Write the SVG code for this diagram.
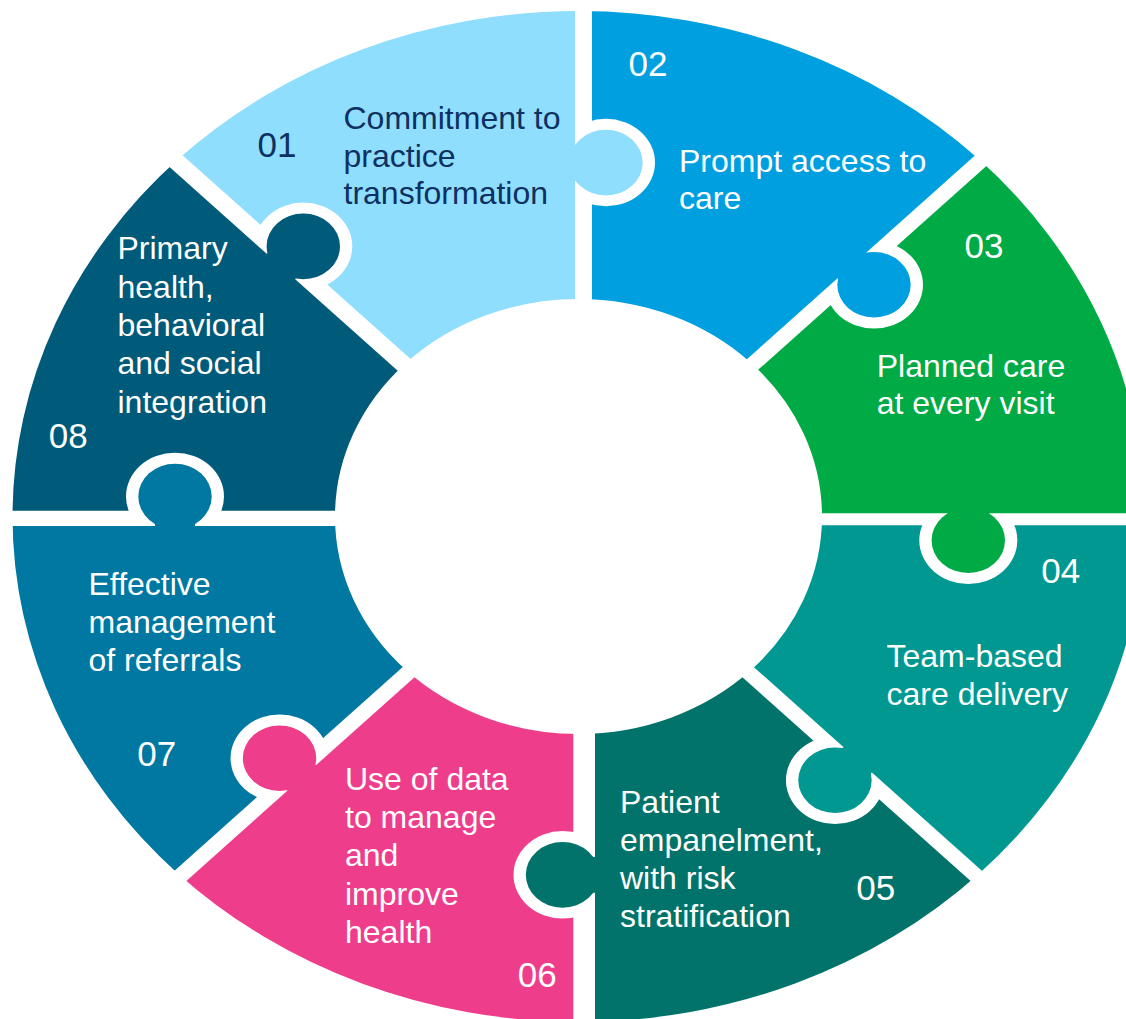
<svg xmlns="http://www.w3.org/2000/svg" xmlns:xlink="http://www.w3.org/1999/xlink" width="1126" height="1019" viewBox="0 0 1126 1019">
  <style>
    .lbl { font-family: "Liberation Sans", Arial, sans-serif; font-size: 32px; fill: #ffffff; }
    .num { font-family: "Liberation Sans", Arial, sans-serif; font-size: 35px; fill: #ffffff; }
    .dark { fill: #0E3062; }
    .gap { stroke: #000; fill: none; }
    .sock { fill: #000; }
  </style>
  <defs>
    <!-- white cut lines between the ring pieces (ring space: centre 0,0, circle radius 566) -->
    <g id="gaps">
      <line class="gap" x1="0" y1="5" x2="700" y2="5" stroke-width="17" transform="rotate(-90)"/>
      <line class="gap" x1="0" y1="2.7" x2="700" y2="2.7" stroke-width="16.4" transform="rotate(-45)"/>
      <line class="gap" x1="0" y1="3" x2="700" y2="3" stroke-width="13.5"/>
      <line class="gap" x1="0" y1="3.3" x2="700" y2="3.3" stroke-width="16.1" transform="rotate(45)"/>
      <line class="gap" x1="0" y1="-5.65" x2="700" y2="-5.65" stroke-width="21.7" transform="rotate(90)"/>
      <line class="gap" x1="0" y1="-3.1" x2="700" y2="-3.1" stroke-width="16.4" transform="rotate(135)"/>
      <line class="gap" x1="0" y1="-2.1" x2="700" y2="-2.1" stroke-width="17.2" transform="rotate(180)"/>
      <line class="gap" x1="0" y1="-3.2" x2="700" y2="-3.2" stroke-width="18.5" transform="rotate(225)"/>
    </g>
    <rect id="all" x="-700" y="-700" width="1400" height="1400" fill="#fff"/>
    <mask id="m01" maskUnits="userSpaceOnUse" x="-700" y="-700" width="1400" height="1400">
      <use xlink:href="#all"/><use xlink:href="#gaps"/>
      <circle class="sock" cx="408.5" cy="19.3" r="49" transform="rotate(225)"/>
    </mask>
    <mask id="m02" maskUnits="userSpaceOnUse" x="-700" y="-700" width="1400" height="1400">
      <use xlink:href="#all"/><use xlink:href="#gaps"/>
      <circle class="sock" cx="396.3" cy="27.5" r="49" transform="rotate(-90)"/>
    </mask>
    <mask id="m03" maskUnits="userSpaceOnUse" x="-700" y="-700" width="1400" height="1400">
      <use xlink:href="#all"/><use xlink:href="#gaps"/>
      <circle class="sock" cx="392.4" cy="25.5" r="49" transform="rotate(-45)"/>
    </mask>
    <mask id="m04" maskUnits="userSpaceOnUse" x="-700" y="-700" width="1400" height="1400">
      <use xlink:href="#all"/><use xlink:href="#gaps"/>
      <circle class="sock" cx="389.8" cy="26.7" r="49"/>
    </mask>
    <mask id="m05" maskUnits="userSpaceOnUse" x="-700" y="-700" width="1400" height="1400">
      <use xlink:href="#all"/><use xlink:href="#gaps"/>
      <circle class="sock" cx="390.2" cy="27.5" r="49" transform="rotate(45)"/>
    </mask>
    <mask id="m06" maskUnits="userSpaceOnUse" x="-700" y="-700" width="1400" height="1400">
      <use xlink:href="#all"/><use xlink:href="#gaps"/>
      <circle class="sock" cx="401.3" cy="16" r="49" transform="rotate(90)"/>
    </mask>
    <mask id="m07" maskUnits="userSpaceOnUse" x="-700" y="-700" width="1400" height="1400">
      <use xlink:href="#all"/><use xlink:href="#gaps"/>
      <circle class="sock" cx="402.8" cy="20" r="49" transform="rotate(135)"/>
    </mask>
    <mask id="m08" maskUnits="userSpaceOnUse" x="-700" y="-700" width="1400" height="1400">
      <use xlink:href="#all"/><use xlink:href="#gaps"/>
      <circle class="sock" cx="403.5" cy="22.4" r="49" transform="rotate(180)"/>
    </mask>
  </defs>

  <rect width="1126" height="1019" fill="#ffffff"/>

  <!-- 01 -->
  <g id="step-01">
    <g transform="translate(578.5 516.5) scale(1 0.893)" fill="#8FDEFD">
      <path mask="url(#m01)" d="M-172.2,-172.2 L-400.2,-400.2 A566 566 0 0 1 0,-566 L0,-243.5 A243.5 243.5 0 0 0 -172.2,-172.2 Z"/>
      <g transform="rotate(-90)">
        <circle cx="396.3" cy="27.5" r="36.7"/>
        <rect x="376.3" y="-4.5" width="40" height="32"/>
      </g>
    </g>
    <text class="num dark" x="257.5" y="157">01</text>
    <text class="lbl dark" x="343.5" y="129">Commitment to</text>
    <text class="lbl dark" x="343.5" y="166.5">practice</text>
    <text class="lbl dark" x="343.5" y="204">transformation</text>
  </g>

  <!-- 02 -->
  <g id="step-02">
    <g transform="translate(578.5 516.5) scale(1 0.893)" fill="#009FE0">
      <path mask="url(#m02)" d="M0,-243.5 L0,-566 A566 566 0 0 1 400.2,-400.2 L172.2,-172.2 A243.5 243.5 0 0 0 0,-243.5 Z"/>
      <g transform="rotate(-45)">
        <circle cx="392.4" cy="25.5" r="36.7"/>
        <rect x="372.4" y="-6.5" width="40" height="32"/>
      </g>
    </g>
    <text class="num" x="628.5" y="76">02</text>
    <text class="lbl" x="679" y="171.7">Prompt access to</text>
    <text class="lbl" x="679" y="209.3">care</text>
  </g>

  <!-- 03 -->
  <g id="step-03">
    <g transform="translate(578.5 516.5) scale(1 0.893)" fill="#00AA45">
      <path mask="url(#m03)" d="M172.2,-172.2 L400.2,-400.2 A566 566 0 0 1 566,0 L243.5,0 A243.5 243.5 0 0 0 172.2,-172.2 Z"/>
      <circle cx="389.8" cy="26.7" r="36.7"/>
      <rect x="369.8" y="-4.5" width="40" height="31.2"/>
    </g>
    <text class="num" x="964.5" y="257.7">03</text>
    <text class="lbl" x="876.7" y="376.7">Planned care</text>
    <text class="lbl" x="876.7" y="414">at every visit</text>
  </g>

  <!-- 04 -->
  <g id="step-04">
    <g transform="translate(578.5 516.5) scale(1 0.893)" fill="#009891">
      <path mask="url(#m04)" d="M243.5,0 L566,0 A566 566 0 0 1 400.2,400.2 L172.2,172.2 A243.5 243.5 0 0 0 243.5,0 Z"/>
      <g transform="rotate(45)">
        <circle cx="390.2" cy="27.5" r="36.7"/>
        <rect x="370.2" y="-5.8" width="40" height="33.3"/>
      </g>
    </g>
    <text class="num" x="1041.2" y="583.3">04</text>
    <text class="lbl" x="886.5" y="667">Team-based</text>
    <text class="lbl" x="886.5" y="704.5">care delivery</text>
  </g>

  <!-- 05 -->
  <g id="step-05">
    <g transform="translate(578.5 516.5) scale(1 0.893)" fill="#01736A">
      <path mask="url(#m05)" d="M172.2,172.2 L400.2,400.2 A566 566 0 0 1 0,566 L0,243.5 A243.5 243.5 0 0 0 172.2,172.2 Z"/>
      <g transform="rotate(90)">
        <circle cx="401.3" cy="16" r="36.7"/>
        <rect x="381.3" y="-17.5" width="40" height="33.5"/>
      </g>
    </g>
    <text class="num" x="856.2" y="900">05</text>
    <text class="lbl" x="620" y="813.3">Patient</text>
    <text class="lbl" x="620" y="851.3">empanelment,</text>
    <text class="lbl" x="620" y="889.3">with risk</text>
    <text class="lbl" x="620" y="927.3">stratification</text>
  </g>

  <!-- 06 -->
  <g id="step-06">
    <g transform="translate(578.5 516.5) scale(1 0.893)" fill="#EE3D8B">
      <path mask="url(#m06)" d="M0,243.5 L0,566 A566 566 0 0 1 -400.2,400.2 L-172.2,172.2 A243.5 243.5 0 0 0 0,243.5 Z"/>
      <g transform="rotate(135)">
        <circle cx="402.8" cy="20" r="36.7"/>
        <rect x="382.8" y="-12.3" width="40" height="32.3"/>
      </g>
    </g>
    <text class="num" x="517.8" y="986.7">06</text>
    <text class="lbl" x="345" y="790">Use of data</text>
    <text class="lbl" x="345" y="828">to manage</text>
    <text class="lbl" x="345" y="866">and</text>
    <text class="lbl" x="345" y="904.5">improve</text>
    <text class="lbl" x="345" y="942.7">health</text>
  </g>

  <!-- 07 -->
  <g id="step-07">
    <g transform="translate(578.5 516.5) scale(1 0.893)" fill="#0078A1">
      <path mask="url(#m07)" d="M-172.2,172.2 L-400.2,400.2 A566 566 0 0 1 -566,0 L-243.5,0 A243.5 243.5 0 0 0 -172.2,172.2 Z"/>
      <g transform="rotate(180)">
        <circle cx="403.5" cy="22.4" r="36.7"/>
        <rect x="383.5" y="-11.7" width="40" height="34.1"/>
      </g>
    </g>
    <text class="num" x="137.2" y="766">07</text>
    <text class="lbl" x="88.5" y="595">Effective</text>
    <text class="lbl" x="88.5" y="633">management</text>
    <text class="lbl" x="88.5" y="670.7">of referrals</text>
  </g>

  <!-- 08 -->
  <g id="step-08">
    <g transform="translate(578.5 516.5) scale(1 0.893)" fill="#005A79">
      <path mask="url(#m08)" d="M-243.5,0 L-566,0 A566 566 0 0 1 -400.2,-400.2 L-172.2,-172.2 A243.5 243.5 0 0 0 -243.5,0 Z"/>
      <g transform="rotate(225)">
        <circle cx="408.5" cy="19.3" r="36.7"/>
        <rect x="388.5" y="-13.5" width="40" height="32.8"/>
      </g>
    </g>
    <text class="num" x="48.8" y="447.7">08</text>
    <text class="lbl" x="117.5" y="259.3">Primary</text>
    <text class="lbl" x="117.5" y="297.7">health,</text>
    <text class="lbl" x="117.5" y="336">behavioral</text>
    <text class="lbl" x="117.5" y="374">and social</text>
    <text class="lbl" x="117.5" y="412.7">integration</text>
  </g>
</svg>
